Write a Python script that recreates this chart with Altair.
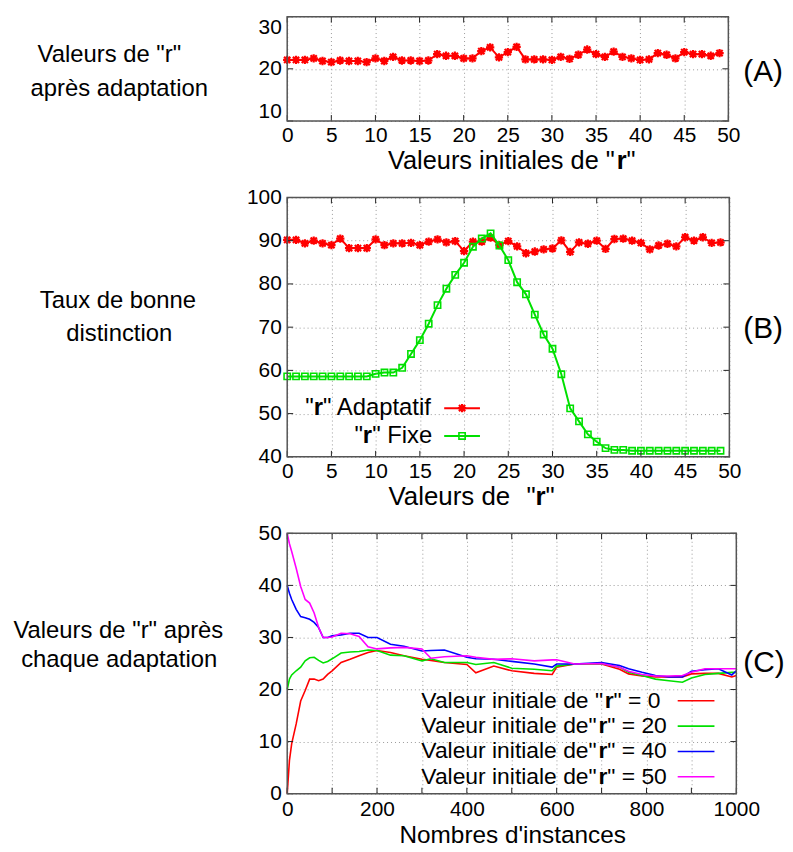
import re
import altair as alt
import pandas as pd

FONT = "Liberation Sans"

# ---------------- data ----------------
# Panel A : "r" after adaptation vs initial "r"
a_x = list(range(50))
a_r = [21.7, 21.7, 21.7, 22.0, 21.5, 21.3, 21.6, 21.5, 21.5, 21.3,
       22.0, 21.5, 22.3, 21.6, 21.6, 21.5, 21.6, 22.8, 22.5, 22.5,
       22.0, 22.0, 23.4, 24.1, 22.2, 23.2, 24.2, 21.8, 21.8, 21.8,
       21.7, 22.3, 21.9, 22.7, 23.7, 22.8, 22.3, 23.3, 22.3, 22.0,
       21.7, 21.8, 23.0, 22.7, 22.0, 23.2, 22.8, 22.8, 22.5, 23.0]

# Panel B : good distinction rate
b_x = list(range(50))
b_adapt = [90.2, 90.2, 89.4, 90.0, 89.4, 89.0, 90.5, 88.3, 88.3, 88.3,
           90.3, 89.0, 89.4, 89.4, 89.5, 89.0, 89.8, 90.3, 89.6, 89.9,
           87.6, 89.8, 89.8, 90.7, 89.0, 89.9, 88.7, 87.1, 87.5, 88.0,
           88.2, 90.1, 87.4, 89.6, 89.3, 90.0, 88.1, 90.4, 90.5, 90.0,
           89.5, 88.0, 88.9, 89.3, 88.7, 90.8, 90.0, 90.8, 89.5, 89.6]
b_fixe = [58.6, 58.6, 58.6, 58.6, 58.6, 58.6, 58.6, 58.6, 58.6, 58.6,
          59.2, 59.5, 59.5, 60.6, 63.8, 67.0, 70.8, 75.1, 78.9, 82.1,
          84.9, 88.6, 90.5, 91.7, 88.9, 85.5, 80.4, 77.6, 72.9, 68.3,
          65.0, 59.1, 51.2, 48.2, 45.2, 43.5, 42.0, 41.6, 41.6, 41.4,
          41.4, 41.4, 41.4, 41.4, 41.4, 41.4, 41.4, 41.4, 41.4, 41.4]

# Panel C : "r" after each adaptation vs number of instances
c_x = [0, 5, 10, 20, 30, 40, 50, 60, 70, 80, 90, 100, 120, 140, 160, 180,
       200, 230, 260, 300, 320, 350, 400, 420, 460, 500, 550, 590, 600, 640,
       700, 740, 760, 790, 820, 850, 880, 900, 930, 960, 990, 1000]
c_r0 = [0.0, 6.4, 9.6, 13.4, 17.8, 19.8, 22.0, 22.0, 21.7, 22.0, 22.9, 23.6,
        25.2, 25.8, 26.5, 27.1, 27.5, 27.1, 26.5, 25.8, 25.6, 25.2, 24.8, 23.2,
        24.5, 23.6, 23.1, 22.9, 24.3, 24.9, 24.9, 23.9, 23.0, 22.6, 22.4, 22.4,
        22.4, 23.0, 23.1, 23.1, 22.4, 22.7]
c_r20 = [20.0, 22.0, 22.8, 23.6, 24.3, 25.5, 26.1, 26.2, 25.6, 25.1, 25.4, 25.9,
         27.0, 27.2, 27.3, 27.6, 27.5, 26.6, 26.5, 25.5, 25.9, 25.2, 25.2, 24.8,
         25.2, 24.1, 23.9, 23.6, 24.5, 24.9, 25.0, 24.3, 23.3, 22.7, 22.0, 21.7,
         21.4, 22.2, 22.9, 23.1, 23.3, 23.3]
c_r40 = [40.0, 38.5, 37.3, 35.4, 34.0, 33.8, 33.5, 32.9, 31.9, 30.0, 30.0, 30.3,
         30.5, 30.8, 30.8, 30.0, 30.0, 28.7, 28.3, 27.4, 27.5, 27.6, 26.2, 25.9,
         25.8, 25.4, 24.9, 24.3, 24.9, 24.9, 25.2, 24.6, 24.0, 23.3, 22.7, 22.4,
         22.4, 23.5, 23.8, 24.0, 22.8, 23.6]
c_r50 = [50.0, 48.0, 46.5, 43.3, 39.8, 37.3, 36.6, 34.7, 31.9, 30.0, 30.0, 30.1,
         30.8, 30.7, 30.2, 28.2, 27.8, 28.0, 28.1, 27.8, 26.0, 26.3, 26.5, 26.2,
         25.8, 25.9, 25.5, 25.7, 25.7, 24.9, 25.0, 24.3, 23.5, 22.9, 22.6, 22.6,
         22.7, 23.3, 24.0, 24.0, 24.0, 24.0]

# ticks
a_xticks = list(range(0, 51, 5))
a_yticks = [10, 20, 30]
b_xticks = list(range(0, 51, 5))
b_yticks = [40, 50, 60, 70, 80, 90, 100]
c_xticks = list(range(0, 1001, 100))
c_yticks = [0, 10, 20, 30, 40, 50]

RED, GREEN, BLUE, MAGENTA = "#ff0000", "#00e000", "#0000ff", "#ff00ff"

# ---------------- layout (page pixels) ----------------
OX = 289
A_OY, B_OY, C_OY = 14, 196, 534
A_W, B_W, C_W = 444, 445, 452
A_H, B_H, C_H = 105, 261, 262
GAP = 77

REG = {' ': 278, '"': 355, "'": 191, '(': 333, ')': 333, '=': 584,
       'A': 667, 'B': 667, 'C': 722, 'F': 611, 'N': 722, 'T': 611, 'V': 667,
       'a': 556, 'b': 556, 'c': 500, 'd': 556, 'e': 556, 'f': 278, 'h': 556,
       'i': 222, 'l': 222, 'm': 833, 'n': 556, 'o': 556, 'p': 556, 'q': 556,
       'r': 333, 's': 500, 't': 278, 'u': 556, 'x': 500, 'è': 556}
BOLD = {'r': 389}
DUMMY = pd.DataFrame({'d': [0]})


def tw(s, fs, bold=False):
    tot = 0
    for ch in s:
        tot += BOLD.get(ch, REG.get(ch, 556)) if bold else REG.get(ch, 556)
    return tot * fs / 1000.0


def rich(segments, x, y, fs, align, oy):
    total = sum(tw(s, fs, b) for s, b in segments)
    start = x if align == 'left' else (x - total / 2 if align == 'center' else x - total)
    out = []
    cur = start
    for s, b in segments:
        for m in re.finditer(r'\S+(?: \S+)*', s):
            px = cur + tw(s[:m.start()], fs, b)
            out.append(
                alt.Chart(DUMMY).mark_text(
                    align='left', baseline='middle', font=FONT, fontSize=fs,
                    fontWeight='bold' if b else 'normal', color='black'
                ).encode(x=alt.value(px - OX), y=alt.value(y - oy), text=alt.value(m.group()))
            )
        cur += tw(s, fs, b)
    return out


def axis(values, flush=False, label_expr=None, pad=6):
    kw = dict(values=values, title=None, grid=True, gridDash=[1, 3], gridColor='#9a9a9a',
              gridWidth=1, ticks=False, domain=False, labelFont=FONT, labelFontSize=21,
              labelColor='black', labelPadding=pad, labelFlush=flush, labelOverlap=False,
              format='d')
    if label_expr:
        kw['labelExpr'] = label_expr
    return alt.Axis(**kw)


def inner_ticks(xvals, yvals, xscale, yscale, xaxis, yaxis, W, H, L=6):
    out = []
    dx = pd.DataFrame({'t': xvals})
    dy = pd.DataFrame({'t': yvals})
    for y0, y1 in ((H, H - L), (0, L)):
        out.append(alt.Chart(dx).mark_rule(color='#222', strokeWidth=1).encode(
            x=alt.X('t:Q', scale=xscale, axis=xaxis), y=alt.value(y0), y2=alt.value(y1)))
    for x0, x1 in ((0, L), (W, W - L)):
        out.append(alt.Chart(dy).mark_rule(color='#222', strokeWidth=1).encode(
            y=alt.Y('t:Q', scale=yscale, axis=yaxis), x=alt.value(x0), x2=alt.value(x1)))
    return out


def frame(W, H):
    return alt.Chart(DUMMY).mark_rect(filled=False, stroke='#555', strokeWidth=1.5).encode(
        x=alt.value(0), x2=alt.value(W), y=alt.value(0), y2=alt.value(H))


STAR = "M-1,0L1,0M0,-1L0,1M-0.75,-0.75L0.75,0.75M-0.75,0.75L0.75,-0.75"

# ---------------- Panel A ----------------
dfA = pd.DataFrame({'x': a_x, 'y': a_r})
xsA = alt.Scale(domain=[0, 50], nice=False, zero=False)
ysA = alt.Scale(domain=[10, 30], nice=False, zero=False)
xaxA, yaxA = axis(a_xticks, pad=4), axis(a_yticks, flush=True)
encA = dict(x=alt.X('x:Q', scale=xsA, axis=xaxA),
            y=alt.Y('y:Q', scale=ysA, axis=yaxA))
layersA = [
    alt.Chart(dfA).mark_line(color=RED, strokeWidth=2).encode(**encA),
    alt.Chart(dfA).mark_point(shape=STAR, color=RED, size=70, strokeWidth=2.2,
                              filled=False, opacity=1).encode(**encA),
]
layersA += inner_ticks(a_xticks, a_yticks, xsA, ysA, xaxA, yaxA, A_W, A_H)
layersA.append(frame(A_W, A_H))
layersA.append(alt.Chart(DUMMY).mark_rule(color='white', strokeWidth=1).encode(
    x=alt.value(8.5 - OX), x2=alt.value(9.5 - OX), y=alt.value(8.5 - A_OY), y2=alt.value(8.5 - A_OY)))
layersA += rich([('Valeurs de "r"', False)], 111, 53, 24, 'center', A_OY)
layersA += rich([('après adaptation', False)], 120, 87, 24, 'center', A_OY)
layersA += rich([('Valeurs initiales de "', False), ('r', True), ('"', False)], 515, 159, 25.5, 'center', A_OY)
layersA += rich([('(A)', False)], 748, 70, 30, 'left', A_OY)
chartA = alt.layer(*layersA).properties(width=A_W, height=A_H)

# ---------------- Panel B ----------------
dfB = pd.DataFrame({'x': b_x, 'adapt': b_adapt, 'fixe': b_fixe})
xsB = alt.Scale(domain=[0, 50], nice=False, zero=False)
ysB = alt.Scale(domain=[40, 100], nice=False, zero=False)
xaxB, yaxB = axis(b_xticks, pad=4), axis(b_yticks)
xB = alt.X('x:Q', scale=xsB, axis=xaxB)
layersB = [
    alt.Chart(dfB).mark_line(color=RED, strokeWidth=2).encode(
        x=xB, y=alt.Y('adapt:Q', scale=ysB, axis=yaxB)),
    alt.Chart(dfB).mark_point(shape=STAR, color=RED, size=70, strokeWidth=2.2, filled=False, opacity=1).encode(
        x=xB, y=alt.Y('adapt:Q', scale=ysB, axis=yaxB)),
    alt.Chart(dfB).mark_line(color=GREEN, strokeWidth=2).encode(
        x=xB, y=alt.Y('fixe:Q', scale=ysB, axis=yaxB)),
    alt.Chart(dfB).mark_point(shape='square', color=GREEN, size=40, strokeWidth=1.6, filled=False, opacity=1).encode(
        x=xB, y=alt.Y('fixe:Q', scale=ysB, axis=yaxB)),
]
layersB += inner_ticks(b_xticks, b_yticks, xsB, ysB, xaxB, yaxB, B_W, B_H)
layersB.append(frame(B_W, B_H))
# legend
layersB += rich([('"', False), ('r', True), ('" Adaptatif', False)], 435, 408, 24, 'right', B_OY)
layersB += rich([('"', False), ('r', True), ('" Fixe', False)], 435, 436, 24, 'right', B_OY)
layersB.append(alt.Chart(DUMMY).mark_rule(color=RED, strokeWidth=2).encode(
    x=alt.value(447 - OX), x2=alt.value(483 - OX), y=alt.value(408 - B_OY)))
layersB.append(alt.Chart(DUMMY).mark_point(shape=STAR, color=RED, size=70, strokeWidth=2.2, filled=False, opacity=1).encode(
    x=alt.value(465 - OX), y=alt.value(408 - B_OY)))
layersB.append(alt.Chart(DUMMY).mark_rule(color=GREEN, strokeWidth=2).encode(
    x=alt.value(447 - OX), x2=alt.value(483 - OX), y=alt.value(436 - B_OY)))
layersB.append(alt.Chart(DUMMY).mark_point(shape='square', color=GREEN, size=40, strokeWidth=1.6, filled=False, opacity=1).encode(
    x=alt.value(465 - OX), y=alt.value(436 - B_OY)))
layersB += rich([('Taux de bonne', False)], 120, 300, 24, 'center', B_OY)
layersB += rich([('distinction', False)], 120, 333, 24, 'center', B_OY)
layersB += rich([('Valeurs de  "', False), ('r', True), ('"', False)], 391, 497, 26, 'left', B_OY)
layersB += rich([('(B)', False)], 748, 328, 30, 'left', B_OY)
chartB = alt.layer(*layersB).properties(width=B_W, height=B_H)

# ---------------- Panel C ----------------
dfC = pd.DataFrame({'x': c_x, 'r0': c_r0, 'r20': c_r20, 'r40': c_r40, 'r50': c_r50})
xsC = alt.Scale(domain=[0, 1000], nice=False, zero=False)
ysC = alt.Scale(domain=[0, 50], nice=False, zero=False)
xaxC = axis(c_xticks, label_expr="datum.value % 200 == 0 ? datum.label : ''", pad=5)
yaxC = axis(c_yticks)
xC = alt.X('x:Q', scale=xsC, axis=xaxC)
layersC = []
for col, colr in (('r0', RED), ('r20', GREEN), ('r40', BLUE), ('r50', MAGENTA)):
    layersC.append(alt.Chart(dfC).mark_line(color=colr, strokeWidth=1.6).encode(
        x=xC, y=alt.Y(f'{col}:Q', scale=ysC, axis=yaxC)))
layersC += inner_ticks(c_xticks, c_yticks, xsC, ysC, xaxC, yaxC, C_W, C_H)
layersC.append(frame(C_W, C_H))
leg_rows = [('de "', '" = 0', RED, 702.5), ('de"', '" = 20', GREEN, 728),
            ('de"', '" = 40', BLUE, 753.5), ('de"', '" = 50', MAGENTA, 779)]
for pre, post, colr, yy in leg_rows:
    layersC += rich([('Valeur initiale ' + pre, False), ('r', True), (post, False)], 424, yy, 23, 'left', C_OY)
    layersC.append(alt.Chart(DUMMY).mark_rule(color=colr, strokeWidth=1.6).encode(
        x=alt.value(682 - OX), x2=alt.value(719 - OX), y=alt.value(yy - C_OY)))
layersC += rich([('Valeurs de "r" après', False)], 120, 632, 24, 'center', C_OY)
layersC += rich([('chaque adaptation', False)], 120, 662, 24, 'center', C_OY)
layersC += rich([("Nombres d'instances", False)], 516, 839, 24.5, 'center', C_OY)
layersC += rich([('(C)', False)], 748, 665, 30, 'left', C_OY)
chartC = alt.layer(*layersC).properties(width=C_W, height=C_H)

chart = alt.vconcat(chartA, chartB, chartC, spacing=GAP, bounds='flush').properties(
    padding=0, background='white'
).configure_view(stroke=None)

chart.save("out.html", embed_options={"renderer": "svg", "actions": False})
